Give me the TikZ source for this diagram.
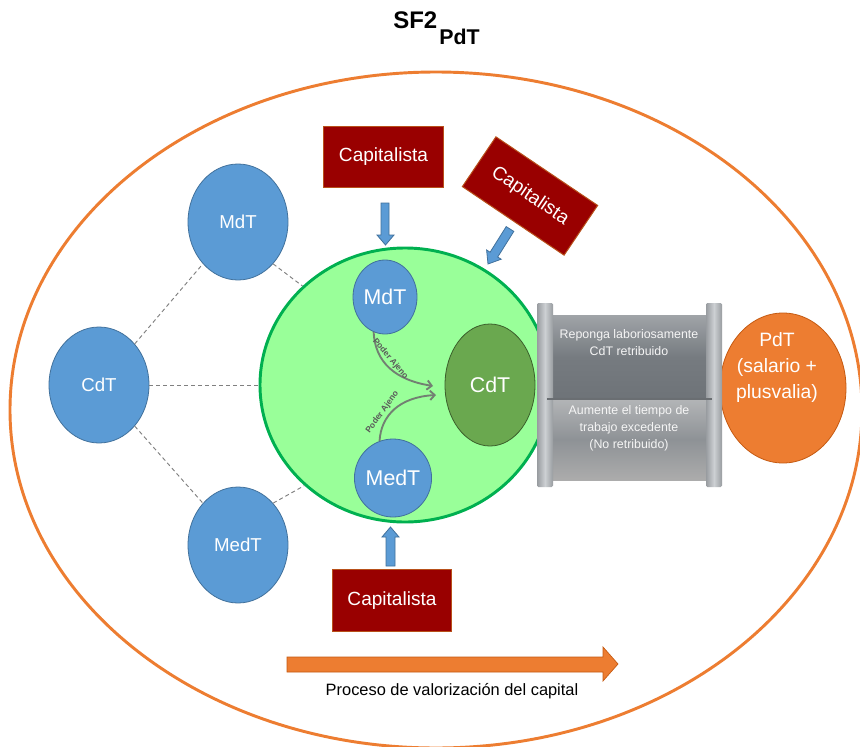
\documentclass[tikz,border=0pt]{standalone}
\usepackage{fontspec}
\setmainfont{Liberation Sans}
\usetikzlibrary{arrows.meta,shapes.geometric}

\definecolor{orng}{HTML}{ED7D31}
\definecolor{orngd}{HTML}{C55A11}
\definecolor{blu}{HTML}{5B9BD5}
\definecolor{blud}{HTML}{41719C}
\definecolor{lgreen}{HTML}{99FF99}
\definecolor{gborder}{HTML}{00B050}
\definecolor{dgreen}{HTML}{6AA84F}
\definecolor{dgreend}{HTML}{3B5E2B}
\definecolor{dred}{HTML}{990000}
\definecolor{dredb}{HTML}{B8501A}
\definecolor{curvec}{HTML}{728072}
\definecolor{cylAt}{HTML}{A0A4A8}
\definecolor{cylAm}{HTML}{767B80}
\definecolor{cylAb}{HTML}{6E7378}
\definecolor{cylBt}{HTML}{B3B5B7}
\definecolor{cylBm}{HTML}{8E9296}
\definecolor{cylBb}{HTML}{ACACAC}
\definecolor{flEdge}{HTML}{989CA0}
\definecolor{flMid}{HTML}{CDD0D3}
\definecolor{divc}{HTML}{6A6E72}

\tikzset{
 bluenode/.style={ellipse, fill=blu, draw=blud, line width=0.6pt, text=white, inner sep=0pt},
 capbox/.style={rectangle, fill=dred, draw=dredb, line width=0.75pt, text=white,
   font=\fontsize{14.3}{17}\selectfont, minimum width=89.5pt, minimum height=46pt, inner sep=0pt},
 dashline/.style={draw=gray, line width=0.7pt, dash pattern=on 3pt off 2.25pt},
 curvearrow/.style={draw=curvec, line width=1.4pt, -{Straight Barb[length=3.5pt,width=7pt]}},
 poder/.style={font=\fontsize{6.3}{7}\selectfont\bfseries, text=black!65, sloped, above=1pt, inner sep=0.5pt},
 blockarrow/.style={fill=blu, draw=blud, line width=0.6pt},
 cyltext/.style={text=white!92!gray, align=center, font=\fontsize{9.3}{12.7}\selectfont},
}

\begin{document}
\begin{tikzpicture}[x=0.75pt,y=-0.75pt]
\useasboundingbox (0,0) rectangle (860,746);
\fill[white] (0,0) rectangle (860,746);

% outer ellipse
\draw[orng, line width=2.2pt] (436,410) ellipse [x radius=426, y radius=338];

% title
\node[anchor=base west, inner sep=0pt, font=\fontsize{18}{21}\selectfont\bfseries] (title) at (393,28)
  {SF2\kern1.5pt\raisebox{-12.5pt}{\fontsize{16}{19}\selectfont PdT}};

% outer blue nodes
\node[bluenode, minimum width=75pt, minimum height=87pt, font=\fontsize{14}{16}\selectfont] (mdtA) at (238,222) {MdT};
\node[bluenode, minimum width=75pt, minimum height=87pt, font=\fontsize{14}{16}\selectfont] (cdtA) at (99,385) {CdT};
\node[bluenode, minimum width=75pt, minimum height=87pt, font=\fontsize{14}{16}\selectfont] (medtA) at (238,545) {MedT};

% green big ellipse
\node[ellipse, fill=lgreen, draw=gborder, line width=2.2pt, minimum width=217.5pt, minimum height=205.5pt, inner sep=0pt] (green) at (405,385) {};

% dashed connectors
\draw[dashline] (cdtA.49) -- (mdtA.230);
\draw[dashline] (cdtA.0) -- (green.180);
\draw[dashline] (cdtA.-49) -- (medtA.130);
\draw[dashline] (mdtA.-50) -- (green.136);
\draw[dashline] (medtA.50) -- (green.225);

% inner nodes
\node[bluenode, minimum width=48pt, minimum height=55.5pt, font=\fontsize{16}{18}\selectfont] (mdtB) at (385,297) {MdT};
\node[bluenode, minimum width=51pt, minimum height=58.5pt, font=\fontsize{16}{18}\selectfont] (medtB) at (393,478) {MedT};
\node[ellipse, fill=dgreen, draw=dgreend, line width=0.6pt, minimum width=67.5pt, minimum height=91.5pt,
  inner sep=0pt, text=white, font=\fontsize{16}{18}\selectfont] (cdtB) at (490,385) {CdT};

% curved arrows
\coordinate (tipA) at (433,386);
\coordinate (tipB) at (436,395);
\draw[curvearrow] (mdtB.252) .. controls (375,362) and (395,380) .. (tipA)
  node[poder, pos=0.42] (pa1) {Poder Ajeno};
\draw[curvearrow] (medtB.110) .. controls (381,415) and (400,397) .. (tipB)
  node[poder, pos=0.36] (pa2) {Poder Ajeno};

% PdT circle
\node[ellipse, fill=orng, draw=orngd, line width=0.6pt, minimum width=94.5pt, minimum height=112.5pt, inner sep=0pt] (pdt) at (783,388) {};
\node[text=white, align=center, font=\fontsize{14.5}{19.5}\selectfont, inner sep=0pt] (pdttext) at (777,367) {PdT\\(salario +\\plusvalia)};

% cylinder
\shade[top color=cylAt, bottom color=cylAb, middle color=cylAm] (553,315) rectangle (706,399);
\shade[top color=cylBt, bottom color=cylBb, middle color=cylBm] (553,399) rectangle (706,480);
\shade[left color=flEdge, right color=flEdge, middle color=flMid, rounded corners=1pt] (537,303) rectangle (553,487);
\shade[left color=flEdge, right color=flEdge, middle color=flMid, rounded corners=1pt] (706,303) rectangle (722,487);
\draw[divc, line width=2.2pt] (547,399) -- (712,399);
\node[cyltext] (cyl1) at (629,343) {Reponga laboriosamente\\CdT retribuido};
\node[cyltext] (cyl2) at (629,428) {Aumente el tiempo de\\trabajo excedente\\(No retribuido)};

% capitalista boxes
\node[capbox] (cap1) at (383.5,157) {Capitalista};
\node[capbox, rotate=-34, minimum width=92pt, minimum height=45pt] (cap2) at (530,196) {Capitalista};
\node[capbox] (cap3) at (392,600.5) {Capitalista};

% blue block arrows
\draw[blockarrow] (381,203) -- (389,203) -- (389,235) -- (394,235) -- (385.5,245) -- (377,235) -- (381,235) -- cycle;
\draw[blockarrow] (386,566) -- (395,566) -- (395,537) -- (399,537) -- (390.5,527) -- (382,537) -- (386,537) -- cycle;
\draw[blockarrow] (513.8,231.4) -- (497.7,257.0) -- (501.2,259.2) -- (488,264) -- (486.6,250.0) -- (490.1,252.2) -- (506.2,226.6) -- cycle;

% bottom process arrow
\draw[fill=orng, draw=orngd, line width=0.5pt] (287,657) -- (603,657) -- (603,647) -- (618,664) -- (603,681) -- (603,672) -- (287,672) -- cycle;
\node[font=\fontsize{12.3}{14}\selectfont] (proc) at (452,691) {Proceso de valorización del capital};
\end{tikzpicture}
\end{document}
